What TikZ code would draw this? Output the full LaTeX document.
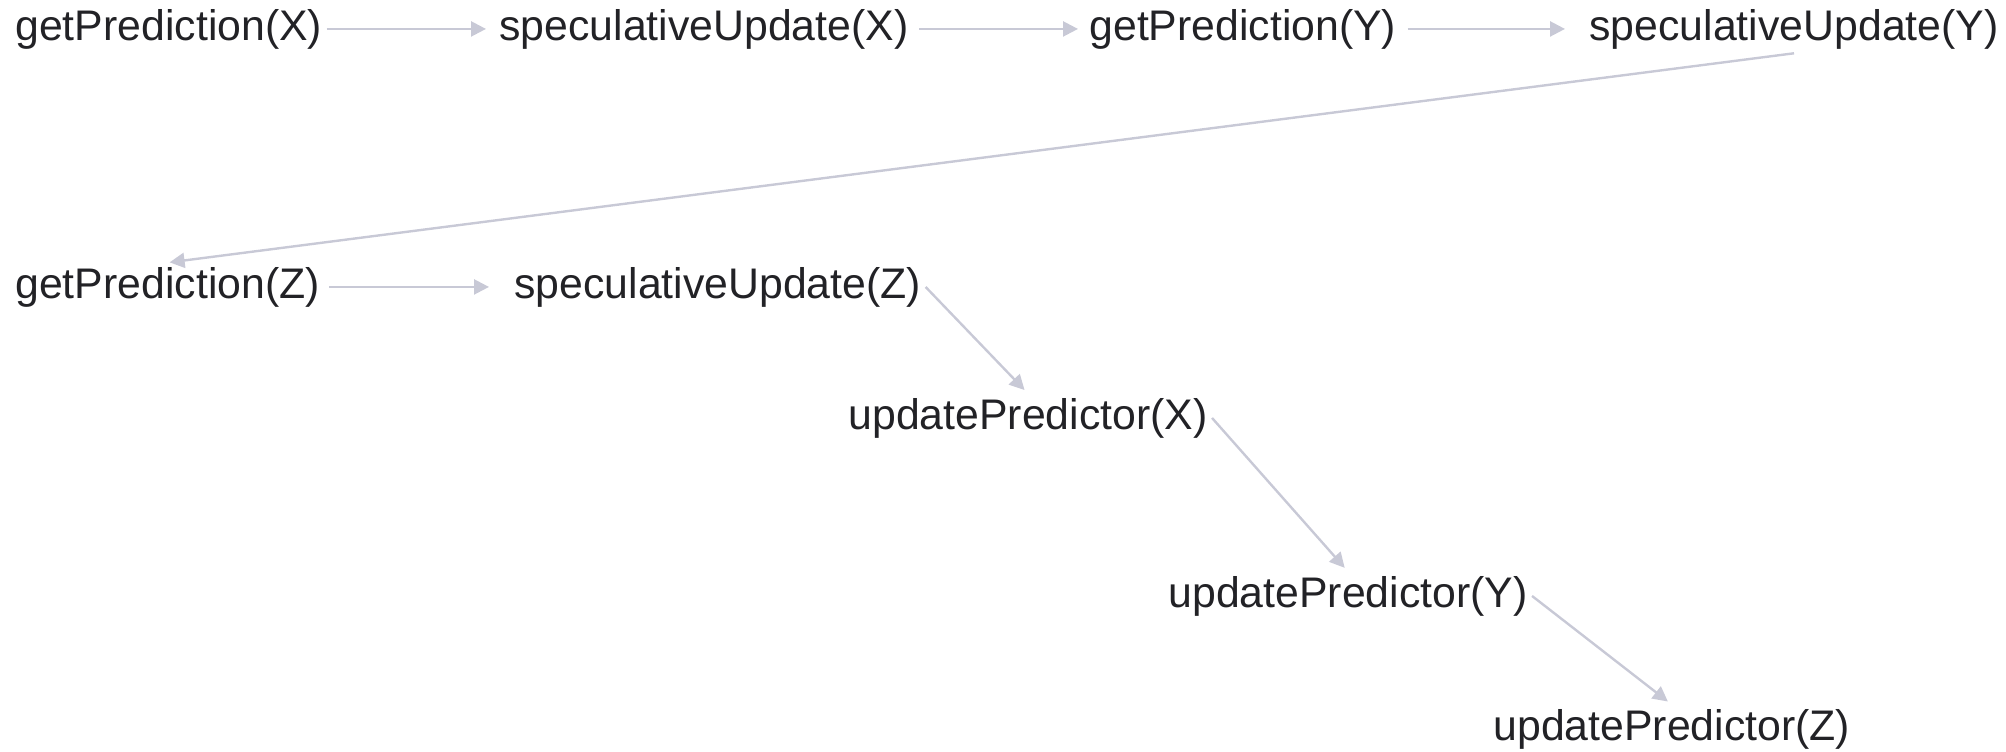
\documentclass[tikz,border=0pt]{standalone}
\usepackage{fontspec}
\setmainfont{Liberation Sans}
\usetikzlibrary{arrows.meta,positioning}
\definecolor{figInk}{RGB}{34,34,38}
\definecolor{figEdge}{RGB}{200,201,214}
\tikzset{
  figcall/.style={font=\fontsize{21.4}{25}\selectfont,text=figInk,inner sep=2pt,anchor=base west},
  figflow/.style={-{Triangle[length=7.5pt,width=7.5pt]},draw=figEdge,line width=1.2pt,shorten >=1pt},
}

\begin{document}
\begin{tikzpicture}[x=0.5pt,y=-0.5pt]
  \useasboundingbox (0,0) rectangle (2006,751);

  % First row: prediction and speculative update of X and Y.
  \node[figcall] (getX)  at (11,40)   {getPrediction(X)};
  \node[figcall] (specX) at (495,40)  {speculativeUpdate(X)};
  \node[figcall] (getY)  at (1085,40) {getPrediction(Y)};
  \node[figcall] (specY) at (1585,40) {speculativeUpdate(Y)};

  % Second row and the staircase of predictor updates.
  \node[figcall] (getZ)  at (11,298)   {getPrediction(Z)};
  \node[figcall] (specZ) at (510,298)  {speculativeUpdate(Z)};
  \node[figcall] (updX)  at (844,429)  {updatePredictor(X)};
  \node[figcall] (updY)  at (1164,607) {updatePredictor(Y)};
  \node[figcall] (updZ)  at (1489,740) {updatePredictor(Z)};

  % Horizontal steps.
  \draw[figflow,shorten >=4.5pt] (getX) -- (specX);
  \draw[figflow,shorten >=3.5pt,shorten <=3pt] (specX) -- (getY);
  \draw[figflow,shorten >=10pt,shorten <=3.5pt] (getY) -- (specY);
  \draw[figflow,shorten >=10.5pt,shorten <=2.5pt] (getZ) -- (specZ);

  % Wrap-around and diagonal steps.
  \draw[figflow] (specY.south) -- (getZ.north);
  \draw[figflow,shorten >=2.5pt] (specZ.east) -- (updX.north);
  \draw[figflow,shorten >=2.5pt] (updX.east) -- (updY.north);
  \draw[figflow,shorten >=2.5pt] (updY.east) -- (updZ.north);
\end{tikzpicture}
\end{document}
